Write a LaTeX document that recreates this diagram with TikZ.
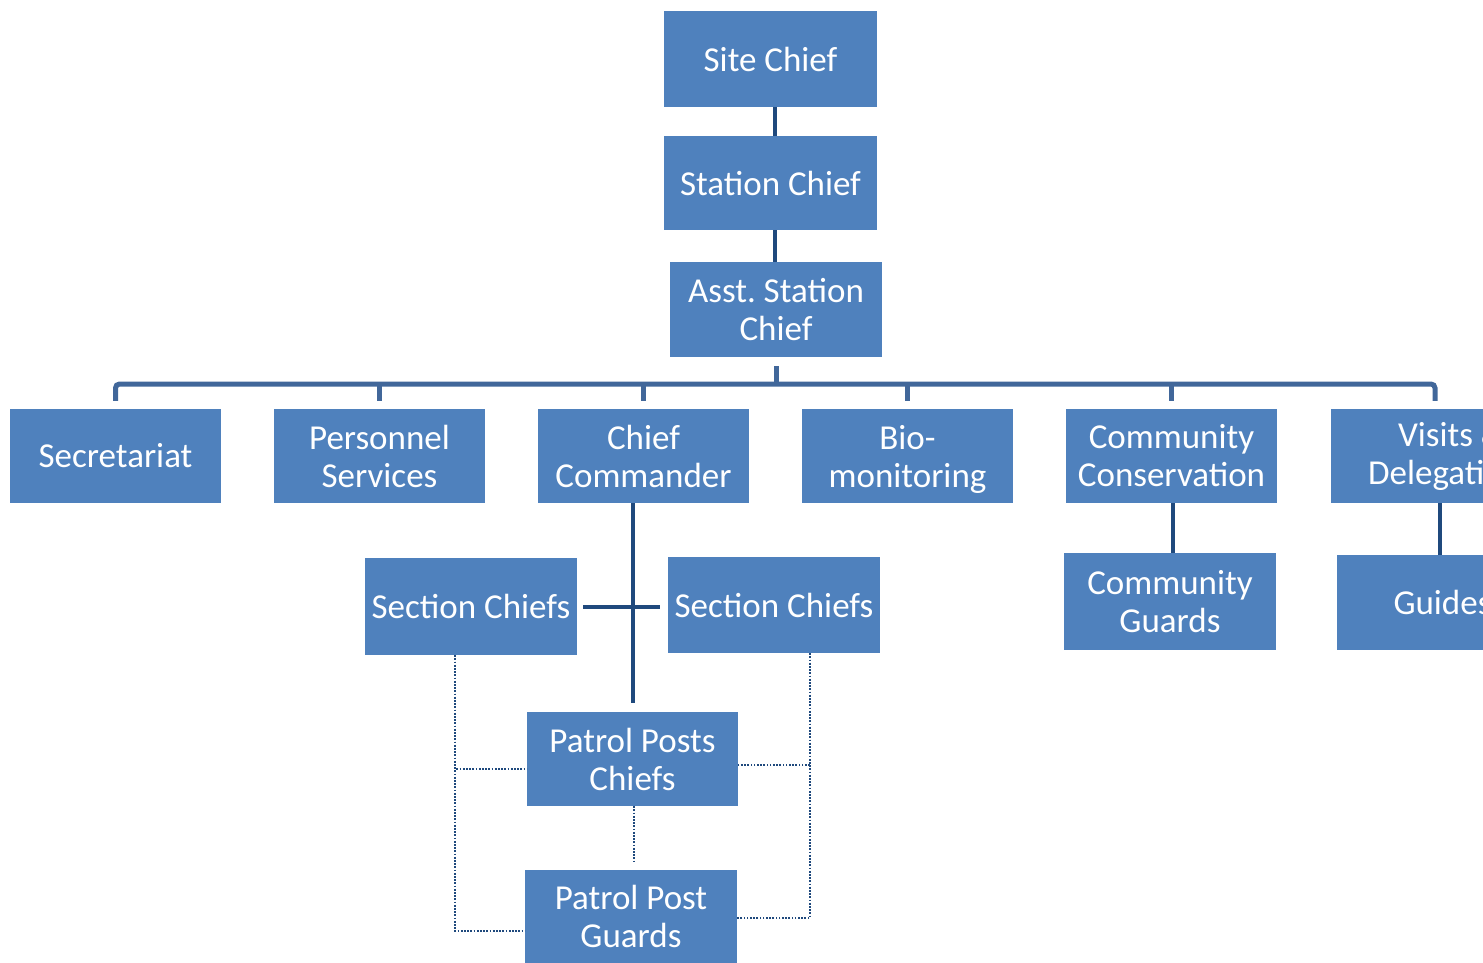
\documentclass[tikz,border=0pt]{standalone}
\usepackage{fontspec}
\setmainfont{Carlito}
\definecolor{boxblue}{HTML}{4F81BD}
\definecolor{linedark}{HTML}{1F497D}
\definecolor{busblue}{HTML}{41679A}
\begin{document}
\frenchspacing
\begin{tikzpicture}[x=1pt,y=-1pt,
  box/.style={fill=boxblue, draw=none, inner sep=0pt, text=white, align=center,
    font=\fontsize{35}{38}\selectfont},
  conn/.style={draw=linedark, line width=4pt},
  busline/.style={draw=busblue, line width=5pt},
  dotline/.style={draw=linedark, line width=1.7pt, dash pattern=on 1.7pt off 1.5pt}]
\useasboundingbox (0,0) rectangle (1483,963);
\clip (0,0) rectangle (1483,963);
% top chain
\node[box, minimum width=213pt, minimum height=96pt] (site) at (770.5,59) {Site Chief};
\node[box, minimum width=213pt, minimum height=94pt] (station) at (770.5,183) {Station Chief};
\node[box, minimum width=212pt, minimum height=95pt] (asst) at (776,309.5) {Asst.\ Station\\Chief};
% second row
\node[box, minimum width=211pt, minimum height=94pt] (sec) at (115.5,456) {Secretariat};
\node[box, minimum width=211pt, minimum height=94pt] (per) at (379.5,456) {Personnel\\Services};
\node[box, minimum width=211pt, minimum height=94pt] (cc) at (643.5,456) {Chief\\Commander};
\node[box, minimum width=211pt, minimum height=94pt] (bio) at (907.5,456) {Bio-\\\raisebox{0pt}[\height][0pt]{monitoring}};
\node[box, minimum width=211pt, minimum height=94pt] (cons) at (1171.5,456) {Community\\Conservation};
\node[box, minimum width=241pt, minimum height=94pt] (vis) at (1451.5,456) {Visits \&\\Delegations};
% third row
\node[box, minimum width=212pt, minimum height=97pt] (scl) at (471,606.5) {Section Chiefs};
\node[box, minimum width=212pt, minimum height=96pt] (scr) at (774,605) {Section Chiefs};
\node[box, minimum width=212pt, minimum height=97pt] (cg) at (1170,601.5) {Community\\Guards};
\node[box, minimum width=211pt, minimum height=95pt] (gd) at (1442.5,602.5) {Guides};
% patrol
\node[box, minimum width=211pt, minimum height=94pt] (ppc) at (632.5,759) {Patrol Posts\\Chiefs};
\node[box, minimum width=212pt, minimum height=93pt] (ppg) at (631,916.5) {Patrol Post\\Guards};
% top connectors
\draw[conn] ([xshift=4.5pt]site.south) -- ([xshift=4.5pt]station.north);
\draw[conn] ([xshift=4.5pt]station.south) -- ([xshift=4.5pt]station.south |- asst.north);
\coordinate (bus) at (776,384);
\draw[busline, shorten <=9pt] (asst.south) -- (bus);
\draw[busline, rounded corners=4pt, shorten <=8pt, shorten >=8pt] (sec.north) |- (bus) -| ([xshift=-16.5pt]vis.north);
\draw[busline, shorten <=8pt] (per.north) -- (per.north |- bus);
\draw[busline, shorten <=8pt] (cc.north) -- (cc.north |- bus);
\draw[busline, shorten <=8pt] (bio.north) -- (bio.north |- bus);
\draw[busline, shorten <=8pt] (cons.north) -- (cons.north |- bus);
% lower solid connectors
\draw[conn, shorten >=9pt] (cc.south -| ppc.north) -- (ppc.north);
\draw[conn, shorten <=6pt, shorten >=8pt] (scl.east) -- (scl.east -| scr.west);
\draw[conn] ([xshift=1.5pt]cons.south) -- ([xshift=3pt]cg.north);
\draw[conn] ([xshift=-11.5pt]vis.south) -- ([xshift=-2.5pt]gd.north);
% dotted
\draw[dotline] ([xshift=-16pt]scl.south) |- ([yshift=-10pt]ppc.west);
\draw[dotline] ([xshift=-16pt]scl.south) |- ([yshift=-14.5pt]ppg.west);
\draw[dotline] ([xshift=36pt]scr.south) |- ([yshift=-6pt]ppc.east);
\draw[dotline] ([xshift=36pt]scr.south) |- ([yshift=-1.5pt]ppg.east);
\draw[dotline, shorten >=8pt] ([xshift=1.5pt]ppc.south) -- ([xshift=3pt]ppg.north);
\end{tikzpicture}
\end{document}
